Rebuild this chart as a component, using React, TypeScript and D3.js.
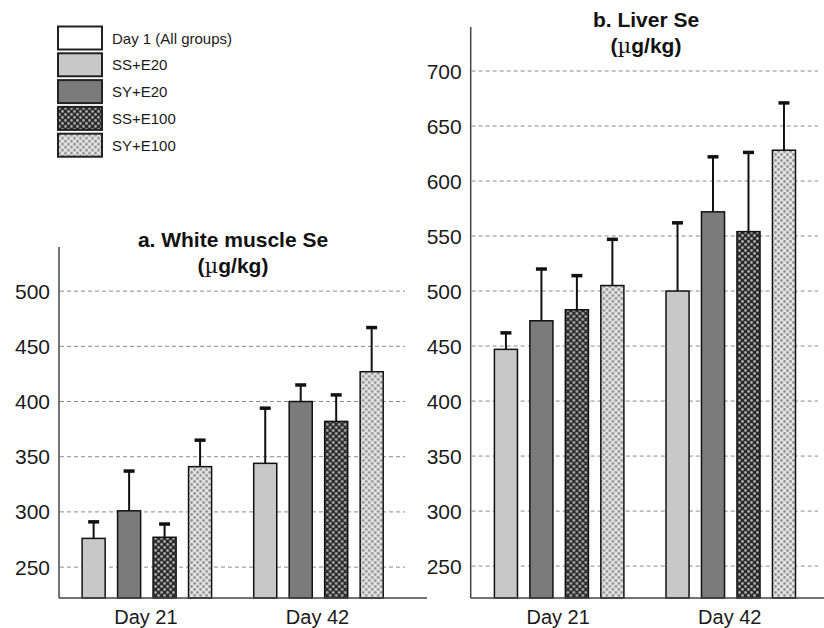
import { useEffect, useRef } from 'react'
import * as d3 from 'd3'

const days = ['Day 21', 'Day 42']
const groups = ['SS+E20', 'SY+E20', 'SS+E100', 'SY+E100']
const legendLabels = ['Day 1 (All groups)', 'SS+E20', 'SY+E20', 'SS+E100', 'SY+E100']

// white muscle Se, mean and SD per day (rows) and group (cols)
const muscleMean = [
  [276, 301, 277, 341],
  [344, 400, 382, 427],
]
const muscleSD = [
  [15, 36, 12, 24],
  [50, 15, 24, 40],
]
const muscleTicks = [250, 300, 350, 400, 450, 500]

// liver Se
const liverMean = [
  [447, 473, 483, 505],
  [500, 572, 554, 628],
]
const liverSD = [
  [15, 47, 31, 42],
  [62, 50, 72, 43],
]
const liverTicks = [250, 300, 350, 400, 450, 500, 550, 600, 650, 700]

const FONT = "'Liberation Sans', Arial, Helvetica, sans-serif"

export default function App() {
  const svgRef = useRef<SVGSVGElement>(null)

  useEffect(() => {
    if (!svgRef.current) return
    const svg = d3.select(svgRef.current)
    svg.selectAll('*').remove()

    const defs = svg.append('defs')
    const makeDots = (id: string, bg: string, dot: string) => {
      const p = defs.append('pattern')
        .attr('id', id)
        .attr('patternUnits', 'userSpaceOnUse')
        .attr('width', 6)
        .attr('height', 6)
      p.append('rect').attr('width', 6).attr('height', 6).attr('fill', bg)
      p.append('circle').attr('cx', 1.5).attr('cy', 1.5).attr('r', 1.4).attr('fill', dot)
      p.append('circle').attr('cx', 4.5).attr('cy', 4.5).attr('r', 1.4).attr('fill', dot)
    }
    makeDots('darkDots', '#2b2b2b', '#a8a8a8')
    makeDots('lightDots', '#e2e2e2', '#969696')

    const fills = ['#c8c8c8', '#7b7b7b', 'url(#darkDots)', 'url(#lightDots)']
    const legendFills = ['#ffffff', ...fills]

    const drawPanel = (opts: {
      axisX: number
      top: number
      bottom: number
      domain: [number, number]
      xRange: [number, number]
      gridEnd: number
      axisEnd: number
      ticks: number[]
      mean: number[][]
      sd: number[][]
      title: string
      titleX: number
      titleY: number
    }) => {
      const y = d3.scaleLinear().domain(opts.domain).range([opts.bottom, opts.top])
      const x0 = d3.scaleBand().domain(days).range(opts.xRange).padding(0)
      const x1 = d3.scaleBand().domain(groups).range([21, 150.5]).paddingInner(0.35).paddingOuter(0)

      const g = svg.append('g')

      // grid
      g.selectAll('.grid')
        .data(opts.ticks)
        .enter().append('line')
        .attr('x1', opts.axisX + 1)
        .attr('x2', opts.gridEnd)
        .attr('y1', d => y(d))
        .attr('y2', d => y(d))
        .attr('stroke', '#8a8a8a')
        .attr('stroke-width', 1)
        .attr('stroke-dasharray', '4,3')

      // tick labels
      g.selectAll('.tick')
        .data(opts.ticks)
        .enter().append('text')
        .attr('x', opts.axisX - 9)
        .attr('y', d => y(d))
        .attr('dy', '0.36em')
        .attr('text-anchor', 'end')
        .style('font-family', FONT)
        .style('font-size', '21px')
        .style('fill', '#1a1a1a')
        .text(d => d)

      // bars
      const dayG = g.selectAll('.day')
        .data(days)
        .enter().append('g')
        .attr('transform', d => `translate(${x0(d)},0)`)

      dayG.each(function (day, di) {
        const sel = d3.select(this)
        groups.forEach((grp, gi) => {
          const v = opts.mean[di][gi]
          const e = v + opts.sd[di][gi]
          const bx = x1(grp)!
          const bw = x1.bandwidth()
          const cx = bx + bw / 2
          sel.append('line')
            .attr('x1', cx).attr('x2', cx)
            .attr('y1', y(v)).attr('y2', y(e))
            .attr('stroke', '#111').attr('stroke-width', 2)
          sel.append('line')
            .attr('x1', cx - 5.5).attr('x2', cx + 5.5)
            .attr('y1', y(e)).attr('y2', y(e))
            .attr('stroke', '#111').attr('stroke-width', 3.5)
          sel.append('rect')
            .attr('x', bx)
            .attr('y', y(v))
            .attr('width', bw)
            .attr('height', opts.bottom - y(v))
            .attr('fill', fills[gi])
            .attr('stroke', '#111')
            .attr('stroke-width', 1.5)
        })
      })

      // day labels
      g.selectAll('.dayLabel')
        .data(days)
        .enter().append('text')
        .attr('x', d => x0(d)! + x0.bandwidth() / 2 - 1)
        .attr('y', opts.bottom + 26)
        .attr('text-anchor', 'middle')
        .style('font-family', FONT)
        .style('font-size', '20px')
        .style('fill', '#1a1a1a')
        .text(d => d)

      // axes
      g.append('line')
        .attr('x1', opts.axisX).attr('x2', opts.axisX)
        .attr('y1', opts.top).attr('y2', opts.bottom)
        .attr('stroke', '#444').attr('stroke-width', 1.5)
      g.append('line')
        .attr('x1', opts.axisX).attr('x2', opts.axisEnd)
        .attr('y1', opts.bottom).attr('y2', opts.bottom)
        .attr('stroke', '#444').attr('stroke-width', 1.5)

      // title
      const t = g.append('text')
        .attr('x', opts.titleX)
        .attr('y', opts.titleY)
        .attr('text-anchor', 'middle')
        .style('font-family', FONT)
        .style('font-size', '21px')
        .style('font-weight', 'bold')
        .style('fill', '#111')
      t.append('tspan').attr('x', opts.titleX).text(opts.title)
      const t2 = t.append('tspan').attr('x', opts.titleX).attr('dy', 25.5)
      t2.append('tspan').text('(')
      t2.append('tspan').style('font-weight', 'normal').style('font-family', "'DejaVu Serif', serif").text('µ')
      t2.append('tspan').text('g/kg)')
    }

    drawPanel({
      axisX: 59, top: 247, bottom: 598, domain: [222, 540],
      xRange: [61.1, 404.3], gridEnd: 405, axisEnd: 427,
      ticks: muscleTicks, mean: muscleMean, sd: muscleSD,
      title: 'a. White muscle Se', titleX: 233, titleY: 247,
    })

    drawPanel({
      axisX: 470.7, top: 27, bottom: 598, domain: [221, 740],
      xRange: [473.4, 816.6], gridEnd: 818, axisEnd: 824,
      ticks: liverTicks, mean: liverMean, sd: liverSD,
      title: 'b. Liver Se', titleX: 646, titleY: 27,
    })

    // legend
    const leg = svg.append('g').attr('transform', 'translate(58,26.5)')
    const rows = leg.selectAll('.row')
      .data(legendLabels)
      .enter().append('g')
      .attr('transform', (d, i) => `translate(0,${i * 26.8})`)
    rows.append('rect')
      .attr('width', 44)
      .attr('height', 23)
      .attr('fill', (d, i) => legendFills[i])
      .attr('stroke', '#222')
      .attr('stroke-width', 2)
    rows.append('text')
      .attr('x', 54)
      .attr('y', 17)
      .style('font-family', FONT)
      .style('font-size', '15px')
      .style('fill', '#1a1a1a')
      .text(d => d)
  }, [])

  return (
    <svg
      ref={svgRef}
      width={824}
      height={628}
      style={{ position: 'absolute', left: 0, top: 0, background: '#fff' }}
    />
  )
}
